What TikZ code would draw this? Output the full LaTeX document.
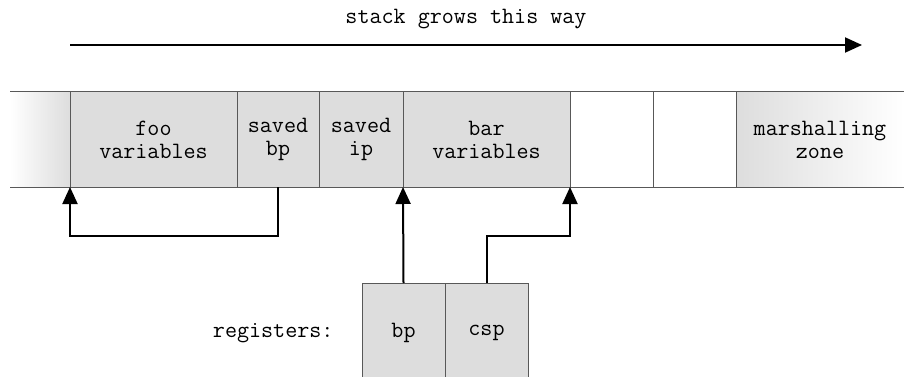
\documentclass[tikz,border=0pt]{standalone}
\usetikzlibrary{positioning, arrows.meta, calc}
\definecolor{cellgray}{HTML}{DDDDDD}
\definecolor{rulegray}{HTML}{585858}

\begin{document}
\begin{tikzpicture}[x=1pt, y=-1pt,
    font=\ttfamily\fontsize{23.4}{23}\selectfont,
    cell/.style={draw=rulegray, line width=1pt, fill=cellgray, minimum height=95pt,
      minimum width=#1, inner sep=0pt, outer sep=0pt, align=center},
    blank/.style={cell=#1, fill=white},
    reg/.style={cell=83pt, minimum height=100pt},
    rule/.style={draw=rulegray, line width=1pt},
    arr/.style={line width=2pt, -{Triangle[length=17pt, width=15pt]}}]
      \useasboundingbox (0,0) rectangle (904,377);

      % the stack
      \node[cell=60pt, draw=none, left color=white, right color=cellgray] (older) at (40,139.5) {};
      \node[cell=167pt, right=0pt of older] (foovars) {foo\\variables};
      \node[cell=82pt, right=0pt of foovars] (savedbp) {saved\\bp};
      \node[cell=84pt, right=0pt of savedbp] (savedip) {saved\\ip};
      \node[cell=167pt, right=0pt of savedip] (barvars) {bar\\variables};
      \node[blank=83pt, right=0pt of barvars] (free1) {};
      \node[blank=83pt, right=0pt of free1] (free2) {};
      \node[cell=168pt, draw=none, left color=cellgray, right color=white, right=0pt of free2] (marshal) {marshalling\\zone};
      \draw[rule] (older.north west) -- (marshal.north east);
      \draw[rule] (older.south west) -- (marshal.south east);
      \draw[rule] (marshal.north west) -- (marshal.south west);

      % direction
      \coordinate (growstart) at (70,45);
      \coordinate (growend) at (862,45);
      \node (growlabel) at (466,19) {stack grows this way};
      \draw[arr] (growstart) -- (growend);

      % registers
      \node[reg] (bp) at (403.5,333) {bp};
      \node[reg, right=0pt of bp] (csp) {csp};
      \node[left=25pt of bp] (reglabel) {registers:};

      \draw[arr] (savedbp.south) -- ++(0,49) -| (foovars.south west);
      \draw[arr] (bp.north) -- (barvars.south west);
      \draw[arr] (csp.north) -- ++(0,-47) -| (barvars.south east);
\end{tikzpicture}
\end{document}
